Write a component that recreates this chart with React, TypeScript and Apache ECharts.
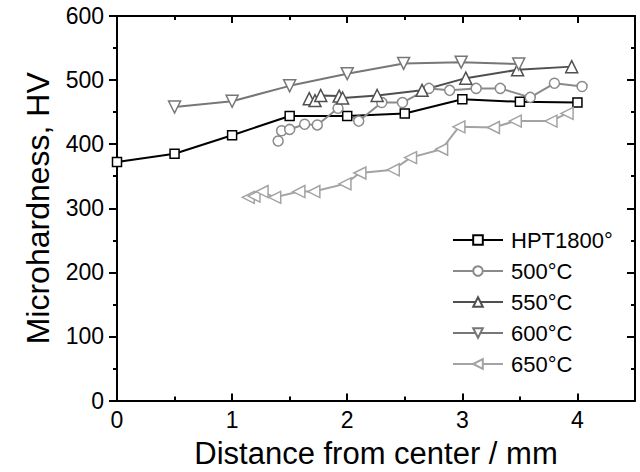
import { useEffect, useRef } from "react";
import * as echarts from "echarts";

const FONT = "'Liberation Sans', Arial, Helvetica, sans-serif";

const seriesNames = ["HPT1800°", "500°C", "550°C", "600°C", "650°C"];
const seriesColors = ["#000000", "#8a8a8a", "#4f4f4f", "#777777", "#a3a3a3"];

const hptX = [0, 0.5, 1, 1.5, 2, 2.5, 3, 3.5, 4];
const hptY = [372, 385, 414, 444, 444, 448, 470, 466, 465];

const t500X = [1.40, 1.43, 1.50, 1.63, 1.74, 1.92, 2.10, 2.30, 2.48, 2.71, 2.89, 3.12, 3.33, 3.59, 3.80, 4.04];
const t500Y = [405, 421, 423, 431, 430, 456, 436, 465, 465, 487, 484, 487, 487, 473, 495, 490];

const t550X = [1.67, 1.72, 1.77, 1.93, 1.96, 2.26, 2.65, 3.03, 3.48, 3.95];
const t550Y = [471, 468, 476, 475, 472, 476, 484, 503, 516, 521];

const t600X = [0.5, 1.0, 1.5, 2.0, 2.49, 2.99, 3.49];
const t600Y = [458, 467, 491, 510, 526, 528, 525];

const t650X = [1.14, 1.19, 1.26, 1.37, 1.58, 1.71, 1.98, 2.11, 2.40, 2.55, 2.82, 2.97, 3.27, 3.46, 3.77, 3.91];
const t650Y = [317, 319, 326, 317, 326, 326, 338, 355, 360, 379, 392, 427, 426, 436, 436, 448];

const xMin = 0;
const xMax = 4.5;
const xMajor = 1;
const xMinor = 0.5;
const yMin = 0;
const yMax = 600;
const yMajor = 100;

const pairs = (xs: number[], ys: number[]) => xs.map((x, i) => [x, ys[i]]);

export default function App() {
  const ref = useRef<HTMLDivElement>(null);

  useEffect(() => {
    if (!ref.current) return;
    const chart = echarts.init(ref.current, undefined, { renderer: "svg" });
    const black = { color: "#000", width: 2 };
    const baseX = {
      type: "value" as const,
      min: xMin,
      max: xMax,
      splitLine: { show: false },
    };
    const makeSeries = (
      idx: number,
      data: number[][],
      symbol: string,
      size: number,
      rotate: number
    ) => ({
      name: seriesNames[idx],
      type: "line",
      xAxisIndex: 0,
      yAxisIndex: 0,
      data,
      symbol,
      symbolSize: size,
      symbolRotate: rotate,
      showAllSymbol: true,
      lineStyle: { color: seriesColors[idx], width: 2 },
      itemStyle: { color: "#ffffff", borderColor: seriesColors[idx], borderWidth: 1.5 },
      emphasis: { disabled: true },
    });

    chart.setOption({
      animation: false,
      backgroundColor: "#ffffff",
      grid: {
        left: 117,
        right: 5,
        top: 16,
        bottom: 71.5,
        containLabel: false,
        outerBoundsMode: "none",
      },
      legend: {
        orient: "vertical",
        left: 452,
        top: 229,
        itemWidth: 50,
        itemHeight: 12,
        itemGap: 9,
        padding: 0,
        data: seriesNames,
        textStyle: { fontSize: 22, fontFamily: FONT, color: "#000", padding: [0, 0, 0, 3] },
      },
      xAxis: [
        {
          ...baseX,
          position: "bottom",
          interval: xMajor,
          axisLine: { show: true, onZero: false, lineStyle: black },
          axisTick: { show: true, inside: true, length: 7, lineStyle: black },
          axisLabel: { color: "#000", fontSize: 23, fontFamily: FONT, margin: 8, showMaxLabel: false },
          name: "Distance from center / mm",
          nameLocation: "middle",
          nameGap: 36,
          nameTextStyle: { color: "#000", fontSize: 31, fontFamily: FONT, lineHeight: 34 },
        },
        {
          ...baseX,
          position: "bottom",
          interval: xMinor,
          axisLine: { show: false, onZero: false },
          axisTick: { show: true, inside: true, length: 4, lineStyle: black },
          axisLabel: { show: false },
        },
        {
          ...baseX,
          position: "top",
          interval: xMajor,
          axisLine: { show: true, onZero: false, lineStyle: black },
          axisTick: { show: true, inside: true, length: 7, lineStyle: black },
          axisLabel: { show: false },
        },
        {
          ...baseX,
          position: "top",
          interval: xMinor,
          axisLine: { show: false, onZero: false },
          axisTick: { show: true, inside: true, length: 4, lineStyle: black },
          axisLabel: { show: false },
        },
      ],
      yAxis: [
        {
          type: "value",
          min: yMin,
          max: yMax,
          interval: yMajor,
          position: "left",
          axisLine: { show: true, onZero: false, lineStyle: black },
          axisTick: { show: true, inside: false, length: 8, lineStyle: black },
          minorTick: { show: true, splitNumber: 2, length: 4, lineStyle: black },
          minorSplitLine: { show: false },
          splitLine: { show: false },
          axisLabel: { color: "#000", fontSize: 23, fontFamily: FONT, margin: 13 },
          name: "Microhardness, HV",
          nameLocation: "middle",
          nameGap: 63,
          nameTextStyle: { color: "#000", fontSize: 32, fontFamily: FONT },
        },
        {
          type: "value",
          min: yMin,
          max: yMax,
          interval: yMajor,
          position: "right",
          axisLine: { show: true, onZero: false, lineStyle: black },
          axisTick: { show: true, inside: true, length: 8, lineStyle: black },
          minorTick: { show: true, splitNumber: 2, length: 4, lineStyle: black },
          minorSplitLine: { show: false },
          splitLine: { show: false },
          axisLabel: { show: false },
        },
      ],
      series: [
        makeSeries(0, pairs(hptX, hptY), "rect", 9, 0),
        makeSeries(1, pairs(t500X, t500Y), "circle", 10, 0),
        makeSeries(2, pairs(t550X, t550Y), "triangle", 12, 0),
        makeSeries(3, pairs(t600X, t600Y), "triangle", 12, 180),
        makeSeries(4, pairs(t650X, t650Y), "triangle", 12, 90),
      ],
    });
    return () => chart.dispose();
  }, []);

  return (
    <div
      ref={ref}
      style={{ position: "fixed", left: 0, top: 0, width: 640, height: 472, background: "#fff" }}
    />
  );
}
